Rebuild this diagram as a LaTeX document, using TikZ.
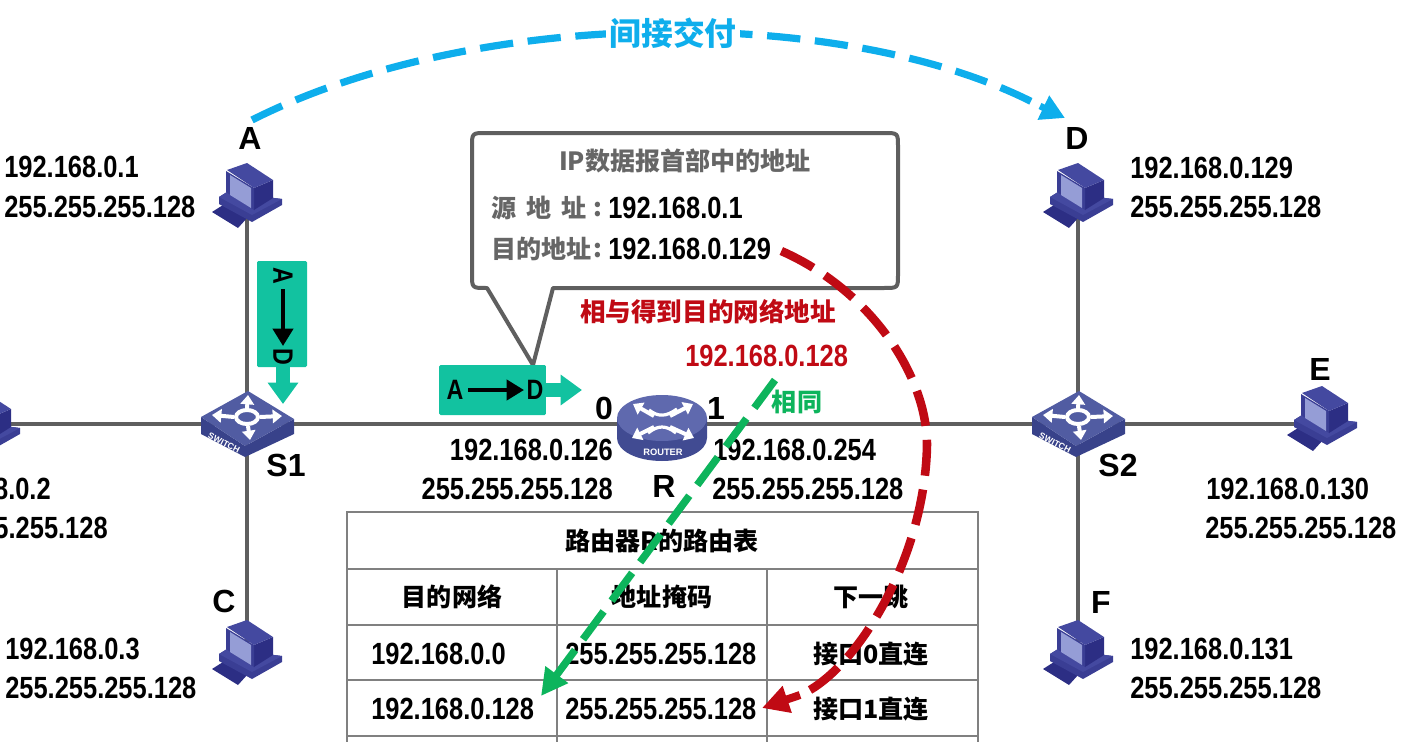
\documentclass[tikz,border=0pt]{standalone}
\usepackage{fontspec}
\usetikzlibrary{arrows.meta,calc}
\newfontfamily\ipf{Liberation Sans Bold}[FakeStretch=0.83]
\newfontfamily\lbf{Liberation Sans}[BoldFont={Liberation Sans Bold}]
\newfontfamily\cjk{Noto Sans CJK SC}
\definecolor{teal1}{HTML}{12C2A0}
\definecolor{blue1}{HTML}{0EAEEC}
\definecolor{red1}{HTML}{C00A14}
\definecolor{green1}{HTML}{0DB45C}
\definecolor{line1}{HTML}{5F5F5F}
\definecolor{pcTop}{HTML}{4449A0}
\definecolor{pcDark}{HTML}{2C2E84}
\definecolor{pcMid}{HTML}{3A3E94}
\definecolor{pcScr}{HTML}{959DD6}
\definecolor{swTop}{HTML}{515CA2}
\definecolor{swSide}{HTML}{38428A}
\definecolor{rtTop}{HTML}{5F69AE}
\definecolor{rtSide}{HTML}{414B92}
\tikzset{
  x=0.75pt,y=-0.75pt,
  wire/.style={draw=line1,line width=2.6pt},
  ip/.style={inner sep=0pt,font=\fontsize{23}{23}\selectfont\ipf,text=black},
  letter/.style={inner sep=0pt,font=\fontsize{24}{24}\selectfont\lbf\bfseries,text=black},
  pktletter/.style={inner sep=0pt,font=\fontsize{21}{21}\selectfont\ipf,text=black},
  zh/.style={inner sep=0pt,font=\fontsize{18.8}{19}\selectfont\cjk\bfseries,text=black},
  zhg/.style={zh,text=black!60},
  devspot/.style={inner sep=0pt,minimum size=2pt},
  tline/.style={draw=black!50,line width=1.2pt},
  teal block/.style={fill=teal1,rounded corners=1pt,inner sep=0pt},
  teal arrow/.style={draw=teal1,line width=10pt,-{Triangle[length=16pt,width=22pt]}},
  inner arrow/.style={draw=black,line width=3pt,-{Triangle[length=13pt,width=15pt]}},
  white arrow/.style={draw=white,line width=3pt,-{Triangle[length=7pt,width=10pt]}},
  bluedash/.style={draw=blue1,line width=5.4pt,dash pattern=on 25pt off 11pt},
  reddash/.style={draw=red1,line width=6.4pt,dash pattern=on 27pt off 10.5pt},
  greendash/.style={draw=green1,line width=5.6pt,dash pattern=on 26pt off 10pt,-{Triangle[length=20pt,width=20pt]}},
  computer/.pic={
    \fill[pcDark] (-35,17)--(-24,10)--(1,22)--(-9,33)--cycle;
    \fill[pcMid] (-28,2)--(-20,-3)--(35,4)--(35,10)--(5,27)--(-28,9)--cycle;
    \fill[pcTop] (-28,2)--(-20,-3)--(35,4)--(5,20)--cycle;
    \fill[pcDark] (7,-7)--(26,-15)--(26,3)--(7,15)--cycle;
    \fill[pcMid] (-21,-24)--(7,-7)--(7,15)--(-21,-3)--cycle;
    \fill[pcTop] (-20,-25)--(0,-32)--(26,-15)--(7,-7)--cycle;
    \fill[pcScr] (-17,-20)--(4,-7)--(4,13)--(-17,0)--cycle;
  },
  switchbox/.pic={
    \fill[swSide] (-46,-7)--(-46,10)--(-2,33)--(47,10)--(47,-5)--(-2,22)--cycle;
    \fill[swTop] (-46,-7)--(1,-33)--(47,-5)--(-2,22)--cycle;
    \draw[white arrow] (0,-16)--(1,-29);
    \draw[white arrow] (1,2)--(3,16);
    \draw[white arrow] (-13,-7)--(-35,-9);
    \draw[white arrow] (13,-7)--(35,-8);
    \draw[white,line width=3pt] (0,-7) ellipse (11 and 7);
    \node[devspot,rotate=-27,text=white,font=\fontsize{6.5}{7}\selectfont\lbf\bfseries] at (-23,19) {SWITCH};
  },
  routerbox/.pic={
    \fill[rtSide] (-45,-6) -- (-45,14) .. controls (-45,27) and (-25,37) .. (0,37) .. controls (25,37) and (45,27) .. (45,14) -- (45,-6) -- cycle;
    \fill[rtTop] (0,-6) ellipse (45 and 23);
    \draw[white arrow] (-8,-8)--(-29,-20);
    \draw[white arrow] (8,-8)--(31,-20);
    \draw[white arrow] (-8,3)--(-30,14);
    \draw[white arrow] (8,3)--(32,14);
    \draw[white,line width=2.4pt] (-13,-14) .. controls (-4,-7) and (4,-7) .. (15,-15);
    \draw[white,line width=2.4pt] (-14,9) .. controls (-4,1) and (4,1) .. (14,9);
    \node[devspot,text=white,font=\fontsize{7}{8}\selectfont\lbf\bfseries] at (1,28) {ROUTER};
  }
}
\begin{document}
\begin{tikzpicture}
\useasboundingbox (0,0) rectangle (1420,742);
\clip (0,0) rectangle (1420,742);

% anchors of the devices
\node[devspot] (A) at (247,195) {};
\node[devspot] (B) at (-15,424) {};
\node[devspot] (C) at (247,652) {};
\node[devspot] (D) at (1078,195) {};
\node[devspot] (E) at (1322,418) {};
\node[devspot] (F) at (1078,652) {};
\node[devspot] (S1) at (247,424) {};
\node[devspot] (S2) at (1078,424) {};
\node[devspot] (R) at (662,424) {};

% wires
\draw[wire] (A) -- (S1);
\draw[wire] (C) -- (S1);
\draw[wire] (B) -- (S1);
\draw[wire] (S1) -- (R);
\draw[wire] (R) -- (S2);
\draw[wire] (D) -- (S2);
\draw[wire] (F) -- (S2);
\draw[wire] (S2) -- (E |- S2);

% devices
\pic at (A) {computer};
\pic at (B) {computer};
\pic at (C) {computer};
\pic at (D) {computer};
\pic at (E) {computer};
\pic at (F) {computer};
\pic at (S1) {switchbox};
\pic at (S2) {switchbox};
\pic at (R) {routerbox};

% letters
\node[letter] (lA) at (250,138) {A};
\node[letter] (lD) at (1077,138) {D};
\node[letter] (lC) at (224,601) {C};
\node[letter] (lF) at (1101,602) {F};
\node[letter] (lE) at (1320,369) {E};
\node[letter] (lS1) at (286,465) {S1};
\node[letter] (lS2) at (1118,465) {S2};
\node[letter] (lR) at (664,486) {R};
\node[letter] (l0) at (604,408) {0};
\node[letter] (l1) at (716,408) {1};

% addresses
\node[ip,anchor=west] (a1) at (4,167) {192.168.0.1};
\node[ip,anchor=west] (a2) at (4,207) {255.255.255.128};
\node[ip,anchor=east] (b1) at (51,489) {192.168.0.2};
\node[ip,anchor=east] (b2) at (108,528) {255.255.255.128};
\node[ip,anchor=west] (c1) at (5,649) {192.168.0.3};
\node[ip,anchor=west] (c2) at (5,688) {255.255.255.128};
\node[ip,anchor=west] (d1) at (1130,168) {192.168.0.129};
\node[ip,anchor=west] (d2) at (1130,207) {255.255.255.128};
\node[ip,anchor=west] (e1) at (1206,489) {192.168.0.130};
\node[ip,anchor=west] (e2) at (1205,528) {255.255.255.128};
\node[ip,anchor=west] (f1) at (1130,649) {192.168.0.131};
\node[ip,anchor=west] (f2) at (1130,688) {255.255.255.128};
\node[ip,anchor=east] (r01) at (613,450) {192.168.0.126};
\node[ip,anchor=east] (r02) at (613,489) {255.255.255.128};
\node[ip,anchor=west] (r11) at (713,450) {192.168.0.254};
\node[ip,anchor=west] (r12) at (712,489) {255.255.255.128};

% table
\coordinate (tTL) at (347,512);
\coordinate (tTR) at (978,512);
\coordinate (tBL) at (347,742);
\coordinate (tBR) at (978,742);
\draw[tline] (tBL) -- (tTL) -- (tTR) -- (tBR);
\foreach \yy in {569,625,680,736} \draw[tline] (347,\yy) -- (978,\yy);
\foreach \xx in {557,767} \draw[tline] (\xx,569) -- (\xx,742);
\node[zh] (tt) at (662,541) {路由器R的路由表};
\node[zh] (th1) at (452,597) {目的网络};
\node[zh] (th2) at (662,597) {地址掩码};
\node[zh] (th3) at (871,597) {下一跳};
\node[ip,anchor=west] (t11) at (371,654) {192.168.0.0};
\node[ip,anchor=west] (t12) at (565,654) {255.255.255.128};
\node[zh] (t13) at (871,654) {接口0直连};
\node[ip,anchor=west] (t21) at (371,709) {192.168.0.128};
\node[ip,anchor=west] (t22) at (565,709) {255.255.255.128};
\node[zh] (t23) at (871,709) {接口1直连};

% callout
\draw[draw=line1,line width=3pt,fill=white,line join=round]
  (486,133) -- (884,133) .. controls (898,133) .. (898,147) -- (898,274)
  .. controls (898,288) .. (884,288) -- (553,288) -- (533,365) -- (487,288) -- (486,288)
  .. controls (472,288) .. (472,274) -- (472,147) .. controls (472,133) .. (486,133) -- cycle;
\node[zhg] (ct) at (685,161) {IP数据报首部中的地址};
\node[zhg,anchor=west] (cs) at (491,208) {源\hspace{0.4em}地\hspace{0.4em}址};
\node[zhg] (csc) at (598,210) {:};
\node[ip,anchor=west] (cs2) at (608,208) {192.168.0.1};
\node[zhg,anchor=west] (cd) at (491,249) {目的地址};
\node[zhg] (cdc) at (598,251) {:};
\node[ip,anchor=west] (cd2) at (608,249) {192.168.0.129};

% red and green labels
\node[zh,font=\fontsize{19.2}{20}\selectfont\cjk\bfseries,text=red1] (rl) at (708,312) {相与得到目的网络地址};
\node[ip,text=red1,anchor=west] (rip) at (685,356) {192.168.0.128};
\node[zh,text=green1] (same) at (797,402) {相同};

% teal packets
\node[teal block,minimum width=37.5pt,minimum height=79.5pt] (pv) at (282,314) {};
\coordinate (pvEnd) at (283,404);
\draw[teal arrow] ($(pv.south)+(1,-1)$) -- (pvEnd);
\node[pktletter,rotate=-90] (pvA) at (283,276) {A};
\node[pktletter,rotate=-90] (pvD) at (283,357) {D};
\draw[inner arrow] ($(pvA)+(0,13)$) -- ($(pvD)+(0,-11)$);

\node[teal block,minimum width=80pt,minimum height=37.5pt] (ph) at (492.5,390) {};
\coordinate (phEnd) at (582,390);
\draw[teal arrow] ($(ph.east)+(-1,0)$) -- (phEnd);
\node[pktletter] (phA) at (455,390) {A};
\node[pktletter] (phD) at (535,390) {D};
\draw[inner arrow] ($(phA)+(13,0)$) -- ($(phD)+(-11,0)$);

% dashed arrows
\coordinate (blueS) at (252,120);
\coordinate (blueM) at (1040,106);
\coordinate (blueE) at (1065,118);
\draw[bluedash] (blueS) .. controls (480,5) and (850,5) .. (blueM);
\draw[draw=blue1,line width=5pt,-{Triangle[length=18pt,width=19pt]}] (blueM) -- (blueE);
\node[zh,font=\fontsize{23.8}{24}\selectfont\cjk\bfseries,text=blue1,fill=white,inner sep=3pt] (ind) at (673,33) {间接交付};

\coordinate (redM) at (927,445);
\coordinate (redN) at (800,695);
\coordinate (redE) at (762,708);
\draw[reddash] ($(cd2.east)+(10,2)$) .. controls (870,290) and (927,375) .. (redM) .. controls (925,560) and (855,672) .. (redN);
\draw[draw=red1,line width=6pt,-{Triangle[length=20pt,width=20pt]}] (redN) -- (redE);

\coordinate (greenS) at (775,380);
\coordinate (greenE) at (541,696);
\draw[greendash] (greenS) -- (greenE);
\end{tikzpicture}
\end{document}
